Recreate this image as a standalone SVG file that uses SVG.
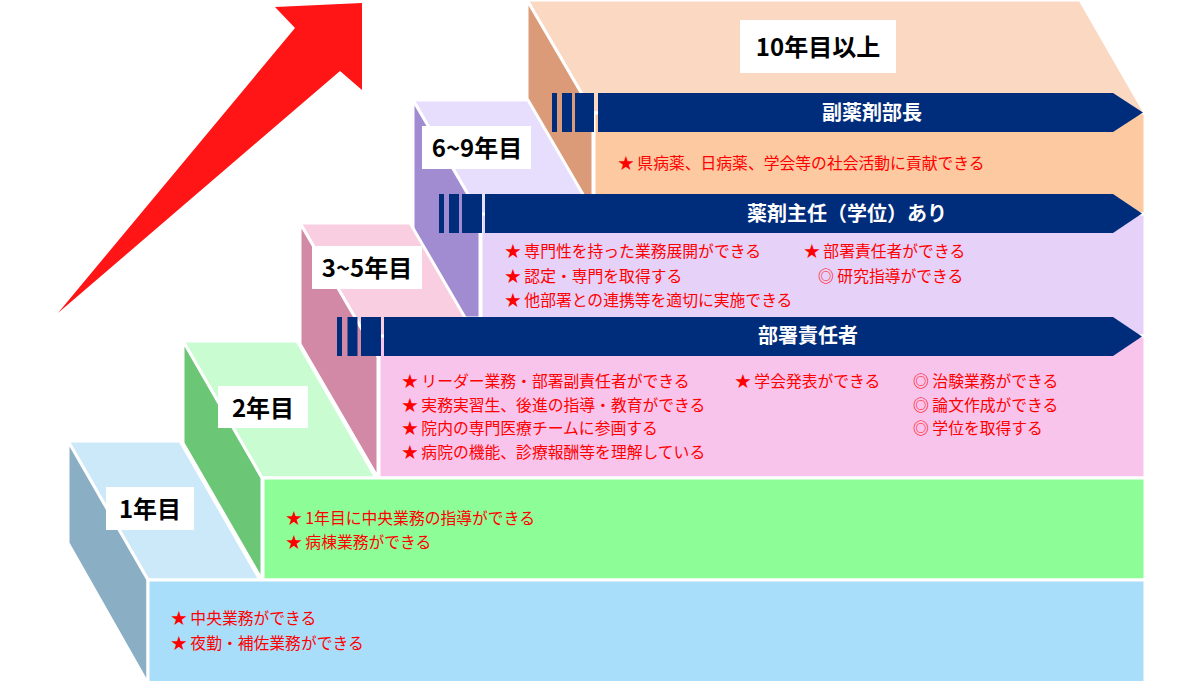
<svg xmlns="http://www.w3.org/2000/svg" width="1200" height="681" viewBox="0 0 1200 681">
<style>
.f{stroke:#fff;stroke-width:3;stroke-linejoin:round}
.bar{fill:#002c7c}
.lbl{font-family:"Noto Sans CJK JP","Noto Sans",sans-serif;font-weight:700;font-size:24px;fill:#000;text-anchor:middle}
.bt{font-family:"Noto Sans CJK JP","Noto Sans",sans-serif;font-weight:700;font-size:20px;fill:#fff;text-anchor:middle}
.rt{font-family:"Noto Sans CJK JP","Noto Sans",sans-serif;font-size:15.8px;fill:#ff0000}
</style>
<rect width="1200" height="681" fill="#fff"/>
<g id="growth-arrow">
<polygon points="58,313 295,28 275,7 362,3 362,90 340,71" fill="#ff1515"/>
</g>
<g id="step5">
<polygon class="f" points="527,0 1080,0 1145,113 593,113" fill="#fbd8c2"/>
<polygon class="f" points="527,0 593,113 593,215 527,100" fill="#dc9b78"/>
<rect class="f" x="594" y="113" width="551" height="101" fill="#fdc9a1"/>
</g>
<g id="step4">
<polygon class="f" points="413,100 528,100 595,215 480,215" fill="#e7ddfd"/>
<polygon class="f" points="413,100 480,215 480,318 413,318" fill="#a18bd1"/>
<rect class="f" x="481" y="214" width="664" height="122" fill="#e6d1f9"/>
</g>
<g id="step3">
<polygon class="f" points="300,223 410,223 488,357 378,357" fill="#f9cee1"/>
<polygon class="f" points="300,223 378,357 378,478 300,344" fill="#d189a6"/>
<rect class="f" x="379" y="336" width="766" height="142" fill="#f9c4ec"/>
</g>
<g id="step2">
<polygon class="f" points="183,341 297,341 376,478 262,478" fill="#c9fcd0"/>
<polygon class="f" points="183,341 262,478 262,580 183,443" fill="#6bc676"/>
<rect class="f" x="263" y="478" width="882" height="102" fill="#8dfd98"/>
</g>
<g id="step1">
<polygon class="f" points="68,441 180,441 260,580 148,580" fill="#cce9fa"/>
<polygon class="f" points="68,441 148,580 148,684 68,543" fill="#8aaec4"/>
<rect class="f" x="148" y="580" width="997" height="104" fill="#a8def9"/>
</g>
<g id="connectors">
<g id="bar-fukuyakuzaibuchou">
<rect class="bar" x="552" y="93" width="5" height="39"/>
<rect class="bar" x="562" y="93" width="10" height="39"/>
<rect class="bar" x="575" y="93" width="19" height="39"/>
<polygon class="bar" points="598,93 1113,93 1143,112.5 1113,132 598,132"/>
</g>
<g id="bar-yakuzaishunin">
<rect class="bar" x="439" y="194" width="5" height="39"/>
<rect class="bar" x="449" y="194" width="10" height="39"/>
<rect class="bar" x="462" y="194" width="20" height="39"/>
<polygon class="bar" points="485,194 1113,194 1142,213.5 1113,233 485,233"/>
</g>
<g id="bar-bushosekininsha">
<rect class="bar" x="337" y="317" width="5" height="39"/>
<rect class="bar" x="347.5" y="317" width="10" height="39"/>
<rect class="bar" x="361" y="317" width="20" height="39"/>
<polygon class="bar" points="384,317 1113,317 1142,336.5 1113,356 384,356"/>
</g>
</g>
<g id="label-10">
<rect x="740" y="20" width="156" height="53" fill="#fff"/>
<text class="lbl" x="818" y="56">10年目以上</text>
</g>
<g id="label-6-9">
<rect x="422" y="126" width="109" height="43" fill="#fff"/>
<text class="lbl" x="477" y="157">6~9年目</text>
</g>
<g id="label-3-5">
<rect x="312" y="246" width="110" height="43" fill="#fff"/>
<text class="lbl" x="367" y="277">3~5年目</text>
</g>
<g id="label-2">
<rect x="218" y="386" width="90" height="42" fill="#fff"/>
<text class="lbl" x="263" y="417">2年目</text>
</g>
<g id="label-1">
<rect x="106" y="487" width="88" height="43" fill="#fff"/>
<text class="lbl" x="150" y="518">1年目</text>
</g>
<g id="bar-texts">
<text class="bt" x="872" y="120">副薬剤部長</text>
<text class="bt" x="847" y="221">薬剤主任（学位）あり</text>
<text class="bt" x="808" y="343">部署責任者</text>
</g>
<g id="text-step5">
<text class="rt" x="618" y="169">★ 県病薬、日病薬、学会等の社会活動に貢献できる</text>
</g>
<g id="text-step4">
<text class="rt" x="505" y="257">★ 専門性を持った業務展開ができる</text>
<text class="rt" x="505" y="282">★ 認定・専門を取得する</text>
<text class="rt" x="505" y="306">★ 他部署との連携等を適切に実施できる</text>
<text class="rt" x="804" y="257">★ 部署責任者ができる</text>
<text class="rt" x="818" y="282">◎ 研究指導ができる</text>
</g>
<g id="text-step3">
<text class="rt" x="402" y="387">★ リーダー業務・部署副責任者ができる</text>
<text class="rt" x="402" y="411">★ 実務実習生、後進の指導・教育ができる</text>
<text class="rt" x="402" y="434">★ 院内の専門医療チームに参画する</text>
<text class="rt" x="402" y="458">★ 病院の機能、診療報酬等を理解している</text>
<text class="rt" x="735" y="387">★ 学会発表ができる</text>
<text class="rt" x="913" y="387">◎ 治験業務ができる</text>
<text class="rt" x="913" y="411">◎ 論文作成ができる</text>
<text class="rt" x="913" y="434">◎ 学位を取得する</text>
</g>
<g id="text-step2">
<text class="rt" x="286" y="524">★ 1年目に中央業務の指導ができる</text>
<text class="rt" x="286" y="548">★ 病棟業務ができる</text>
</g>
<g id="text-step1">
<text class="rt" x="171" y="624">★ 中央業務ができる</text>
<text class="rt" x="171" y="649">★ 夜勤・補佐業務ができる</text>
</g>
</svg>
